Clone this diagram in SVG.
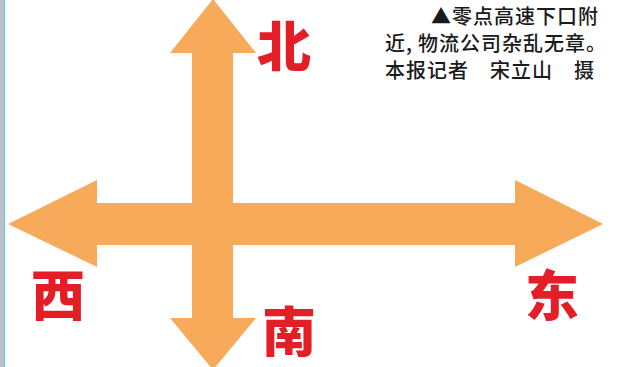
<svg xmlns="http://www.w3.org/2000/svg" width="617" height="367" viewBox="0 0 617 367">
<style>
.dir{font-family:"Noto Sans CJK SC","Noto Sans CJK JP",sans-serif;font-weight:900;font-size:54px;fill:#e41e26;text-anchor:middle}
.cap{font-family:"Noto Sans CJK SC","Noto Sans CJK JP",sans-serif;font-weight:500;font-size:20px;fill:#1a1a1a;letter-spacing:1px}
</style>
<rect width="617" height="367" fill="#ffffff"/>
<rect x="0" y="0" width="4" height="367" fill="#b9c2ca"/>
<line x1="4.5" y1="0" x2="4.5" y2="367" stroke="#5cc6ee" stroke-width="1"/>
<g id="cross">
<polygon fill="#f7aa5a" points="213,-1 256,53 233,53 233,203 515,203 515,180 603,224 515,267 515,245 233,245 233,318 256,318 213,370 170,318 192,318 192,245 97,245 97,267 8,224 97,180 97,203 192,203 192,53 170,53"/>
</g>
<g id="labels">
<text class="dir" x="284" y="67">北</text>
<text class="dir" x="58" y="316">西</text>
<text class="dir" x="552" y="316">东</text>
<text class="dir" x="289" y="352">南</text>
</g>
<g id="caption">
<text class="cap" x="599" y="24" text-anchor="end">▲零点高速下口附</text>
<text class="cap" y="51"><tspan x="385">近,</tspan><tspan x="418">物流公司杂乱无章。</tspan></text>
<text class="cap" x="385" y="78">本报记者　宋立山　摄</text>
</g>
</svg>
